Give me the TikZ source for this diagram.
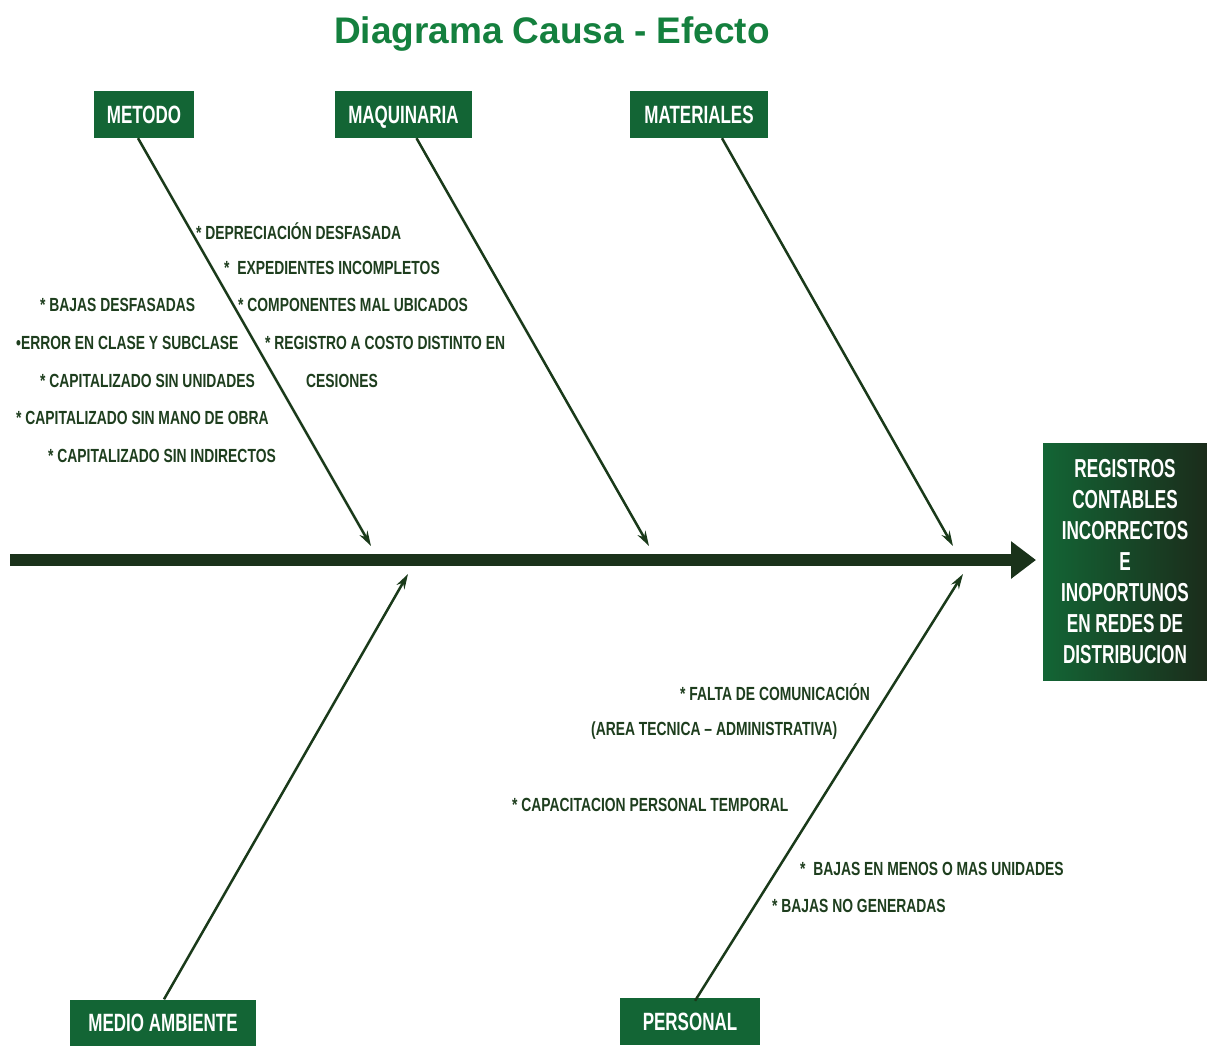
\documentclass[tikz,border=0pt]{standalone}
\usepackage{fontspec}
\setmainfont{Liberation Sans}
\newfontfamily\causefont[FakeStretch=0.73]{Liberation Sans}
\newfontfamily\catfont[FakeStretch=0.68]{Liberation Sans}
\newfontfamily\effectfont[FakeStretch=0.66]{Liberation Sans}
\usetikzlibrary{arrows.meta}
\definecolor{titlegreen}{RGB}{20,128,62}
\definecolor{boxgreen}{RGB}{19,101,53}
\definecolor{bonegreen}{RGB}{26,58,26}
\definecolor{spinegreen}{RGB}{26,50,26}
\definecolor{textgreen}{RGB}{30,62,30}
\definecolor{effectdark}{RGB}{27,44,27}
\begin{document}
\begin{tikzpicture}[x=1pt,y=-1pt,
  catbox/.style={fill=boxgreen, text=white, inner sep=0pt, minimum height=47pt,
    text height=18pt, text depth=0pt,
    font=\catfont\bfseries\fontsize{25}{25}\selectfont},
  cause/.style={anchor=west, inner sep=0pt, text=textgreen,
    font=\causefont\bfseries\fontsize{19}{19}\selectfont},
  bone/.style={draw=bonegreen, line width=2.5pt,
    -{Stealth[length=15pt,width=9pt]}},
  spine/.style={draw=spinegreen, line width=12pt,
    -{Triangle[length=25pt,width=36pt]}}]

% page frame
\useasboundingbox (0,0) rectangle (1207,1045);
\fill[white] (0,0) rectangle (1207,1045);

% title
\node[anchor=base, inner sep=0pt, text=titlegreen,
  font=\bfseries\fontsize{37}{37}\selectfont] (title) at (552,43) {Diagrama Causa - Efecto};

% category boxes
\node[catbox, minimum width=100pt] (metodo) at (144,114.5) {METODO};
\node[catbox, minimum width=137pt] (maquinaria) at (403.5,114.5) {MAQUINARIA};
\node[catbox, minimum width=138pt] (materiales) at (699,114.5) {MATERIALES};
\node[catbox, minimum width=186pt, minimum height=46pt] (medio) at (163,1022.5) {MEDIO AMBIENTE};
\node[catbox, minimum width=140pt, minimum height=47pt] (personal) at (690,1021.5) {PERSONAL};

% effect box
\shade[left color=boxgreen, right color=effectdark] (1043,443) rectangle (1207,680);
\node[inner sep=0pt, text=white, align=center,
  font=\effectfont\bfseries\fontsize{26}{31}\selectfont] (effect) at (1125,562)
  {REGISTROS\\CONTABLES\\INCORRECTOS\\E\\INOPORTUNOS\\EN REDES DE\\DISTRIBUCION};

% spine
\coordinate (tail) at (10,560);
\coordinate (head) at (1036,560);
\draw[spine] (tail) -- (head);

% bone end points near the spine
\coordinate (e1) at (371,546);
\coordinate (e2) at (649,546);
\coordinate (e3) at (953,546);
\coordinate (e4) at (408,574);
\coordinate (e5) at (963,574);

\draw[bone] ([xshift=-6pt]metodo.south) -- (e1);
\draw[bone] ([xshift=13pt]maquinaria.south) -- (e2);
\draw[bone] ([xshift=23pt]materiales.south) -- (e3);
\draw[bone] ([xshift=1pt]medio.north) -- (e4);
\draw[bone] ([xshift=5pt,yshift=-3pt]personal.north) -- (e5);

% causes: metodo (left side)
\node[cause] (c1) at (40,305) {* BAJAS DESFASADAS};
\node[cause] (c2) at (16,343) {•ERROR EN CLASE Y SUBCLASE};
\node[cause] (c3) at (40,381) {* CAPITALIZADO SIN UNIDADES};
\node[cause] (c4) at (16,418) {* CAPITALIZADO SIN MANO DE OBRA};
\node[cause] (c5) at (48,456) {* CAPITALIZADO SIN INDIRECTOS};

% causes: metodo (right side)
\node[cause] (c6) at (196,231) {* DEPRECIACIÓN DESFASADA};
\node[cause] (c7) at (224,268) {*\ \ EXPEDIENTES INCOMPLETOS};
\node[cause] (c8) at (238,305) {* COMPONENTES MAL UBICADOS};
\node[cause] (c9) at (265,343) {* REGISTRO A COSTO DISTINTO EN};
\node[cause] (c10) at (306,381) {CESIONES};

% causes: personal
\node[cause] (p1) at (680,692) {* FALTA DE COMUNICACIÓN};
\node[cause] (p2) at (591,731) {(AREA TECNICA – ADMINISTRATIVA)};
\node[cause] (p3) at (512,805) {* CAPACITACION PERSONAL TEMPORAL};
\node[cause] (p4) at (800,869) {*\ \ BAJAS EN MENOS O MAS UNIDADES};
\node[cause] (p5) at (772,906) {* BAJAS NO GENERADAS};
\end{tikzpicture}
\end{document}
